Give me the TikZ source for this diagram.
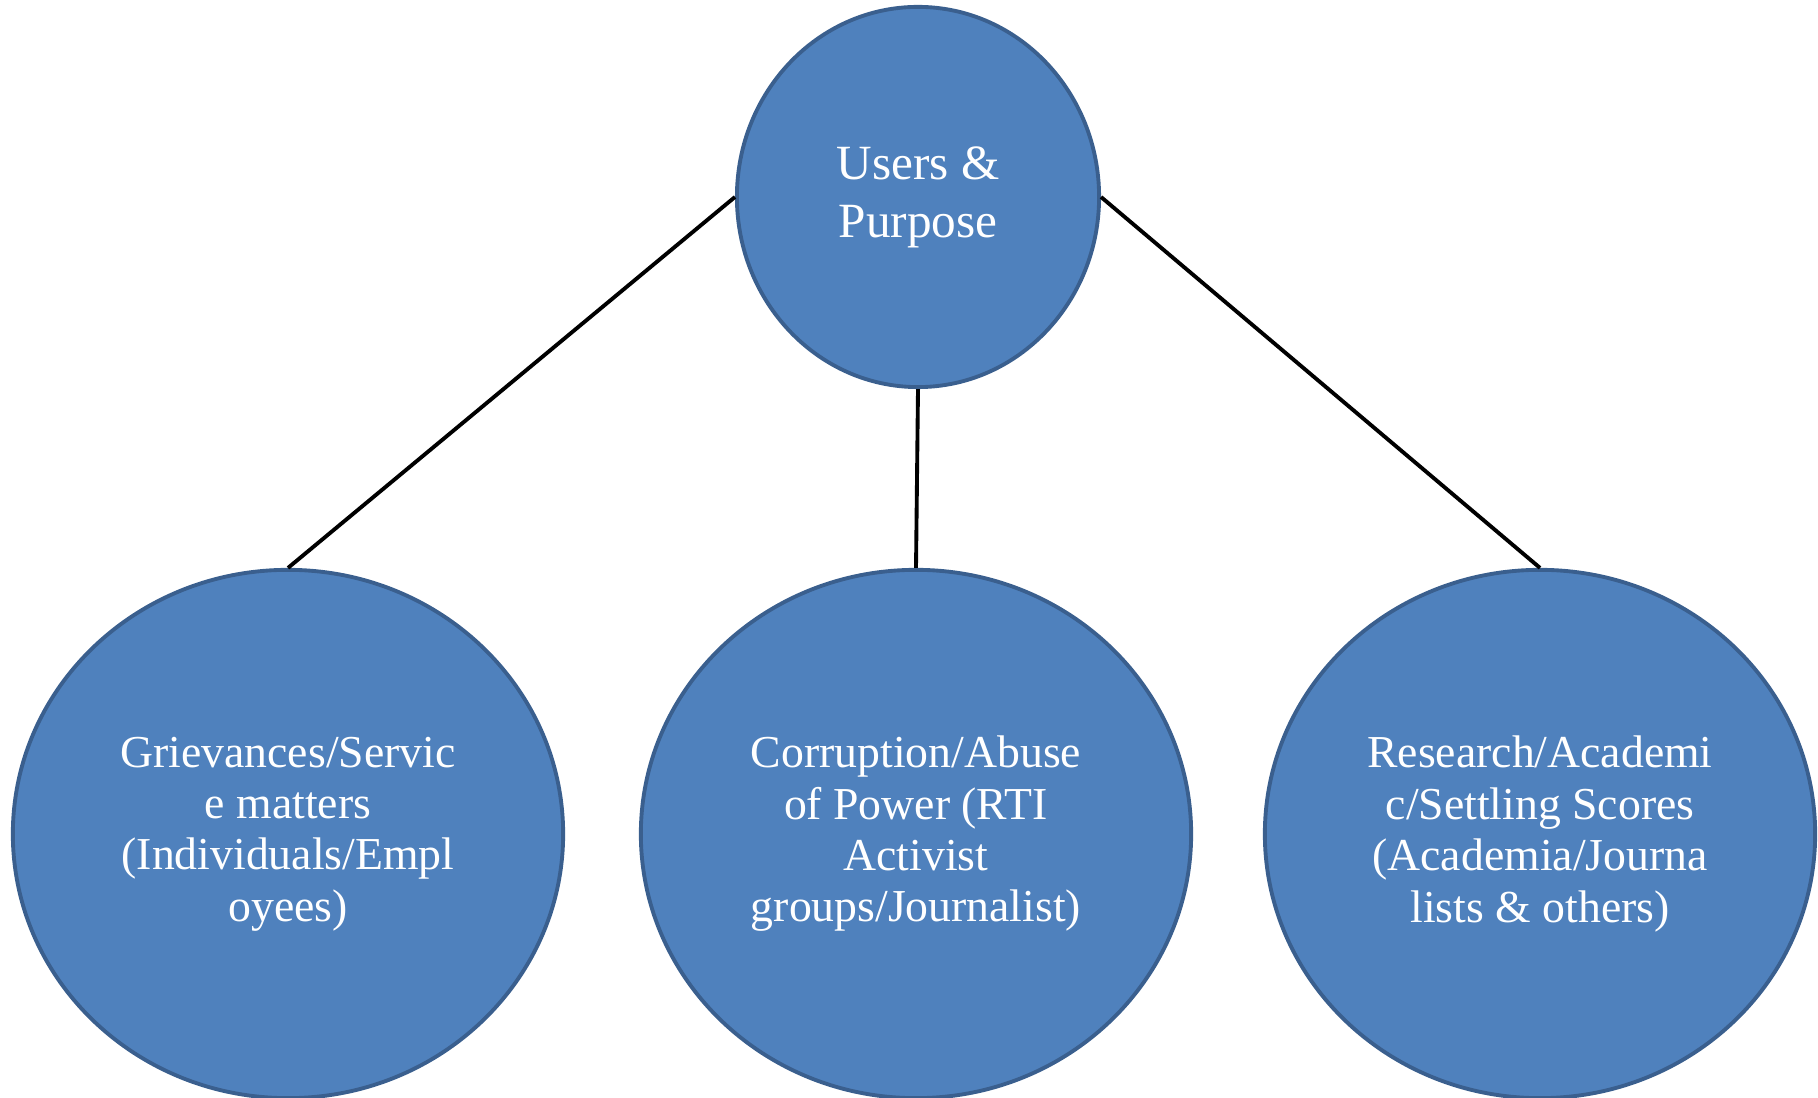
\documentclass[tikz,border=0pt]{standalone}
\usepackage{fontspec}
\setmainfont{Liberation Serif}
\usepackage{tikz}
\usetikzlibrary{shapes.geometric}

\definecolor{fillblue}{HTML}{4F81BD}
\definecolor{edgeblue}{HTML}{3A5F8E}

\begin{document}
\begin{tikzpicture}
		[x=0.01cm,y=-0.01cm,
		 blob/.style= {ellipse,draw=edgeblue,fill=fillblue,line width=1.1pt,inner sep=0pt,text=white,align=center},
		 hub/.style= {blob,minimum width=3.62cm,minimum height=3.8cm,font=\fontsize{14}{16.5}\selectfont},
		 leaf/.style= {blob,minimum width=5.5cm,minimum height=5.28cm,font=\fontsize{13}{14.6}\selectfont},
		 link/.style= {line width=1.1pt,black}]

		\useasboundingbox (0,0) rectangle (1818,1098);

		\node[hub] (users) at (918,197) {Users \&\\Purpose}
		;

		\node[leaf] (griev) at (288,834) {Grievances/Servic\\e matters\\(Individuals/Empl\\oyees)}
		;

		\node[leaf] (corrupt) at (916,834) {Corruption/Abuse\\of Power (RTI\\Activist\\groups/Journalist)}
		;

		\node[leaf] (research) at (1540,834) {Research/Academi\\c/Settling Scores\\(Academia/Journa\\lists \& others)}
		;

		\draw[link] (users.west) -- (griev.north);
		\draw[link] (users.south) -- (corrupt.north);
		\draw[link] (users.east) -- (research.north);

	\end{tikzpicture}
\end{document}
